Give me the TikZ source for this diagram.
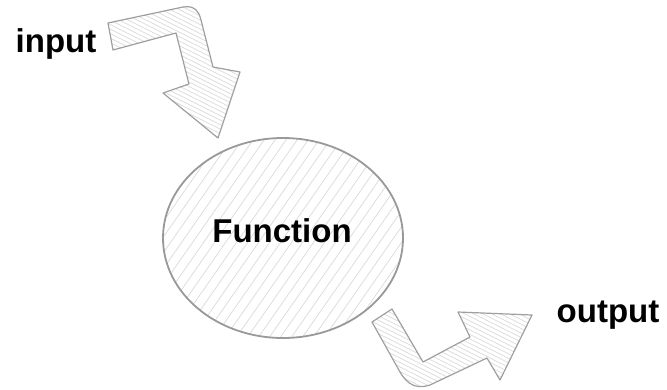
\documentclass[tikz,border=0pt]{standalone}
\usepackage{fontspec}
\setmainfont{Liberation Sans}

\tikzset{
  outline/.style={draw=gray!75, line width=1.2pt, line join=round},
  hatch/.style={gray!35, line width=0.6pt},
  label/.style={font=\fontsize{33}{40}\selectfont\bfseries, inner sep=0pt, anchor=base}
}

\begin{document}
\begin{tikzpicture}[x=1pt,y=-1pt]

\useasboundingbox (0,0) rectangle (667,389);

% function blob
\begin{scope}
\clip (283,238) ellipse [x radius=120, y radius=100];
\foreach \i in {0,11,...,420} \draw[hatch, gray!30, line width=0.7pt] (\i,345) -- ++(150,-215);
\end{scope}
\draw[outline, draw=gray!80, line width=1.8pt] (283,238) ellipse [x radius=120, y radius=100];

% input arrow
\def\inarrow{(108,23) -- (183,7) .. controls (195,5) and (199,12) .. (201,20) -- (213,67) -- (240,72) -- (218,138) -- (163,93) -- (189,84) -- (176,33) -- (113,50) -- cycle}
\begin{scope}
\clip \inarrow;
\foreach \i in {-200,-191,...,250} \draw[hatch] (\i,0) -- ++(300,150);
\end{scope}
\draw[outline] \inarrow;

% output arrow
\def\outarrow{(372,322) -- (400,372) .. controls (408,386) and (418,389) .. (430,385) -- (487,358) -- (500,380) -- (532,315) -- (458,312) -- (470,337) -- (423,362) -- (392,309) -- cycle}
\begin{scope}
\clip \outarrow;
\foreach \i in {100,109,...,545} \draw[hatch] (\i,280) -- ++(240,120);
\end{scope}
\draw[outline] \outarrow;

\node[label] (in) at (56,52) {input};
\node[label] (fn) at (282,242) {Function};
\node[label] (out) at (608,322) {output};

\end{tikzpicture}
\end{document}
